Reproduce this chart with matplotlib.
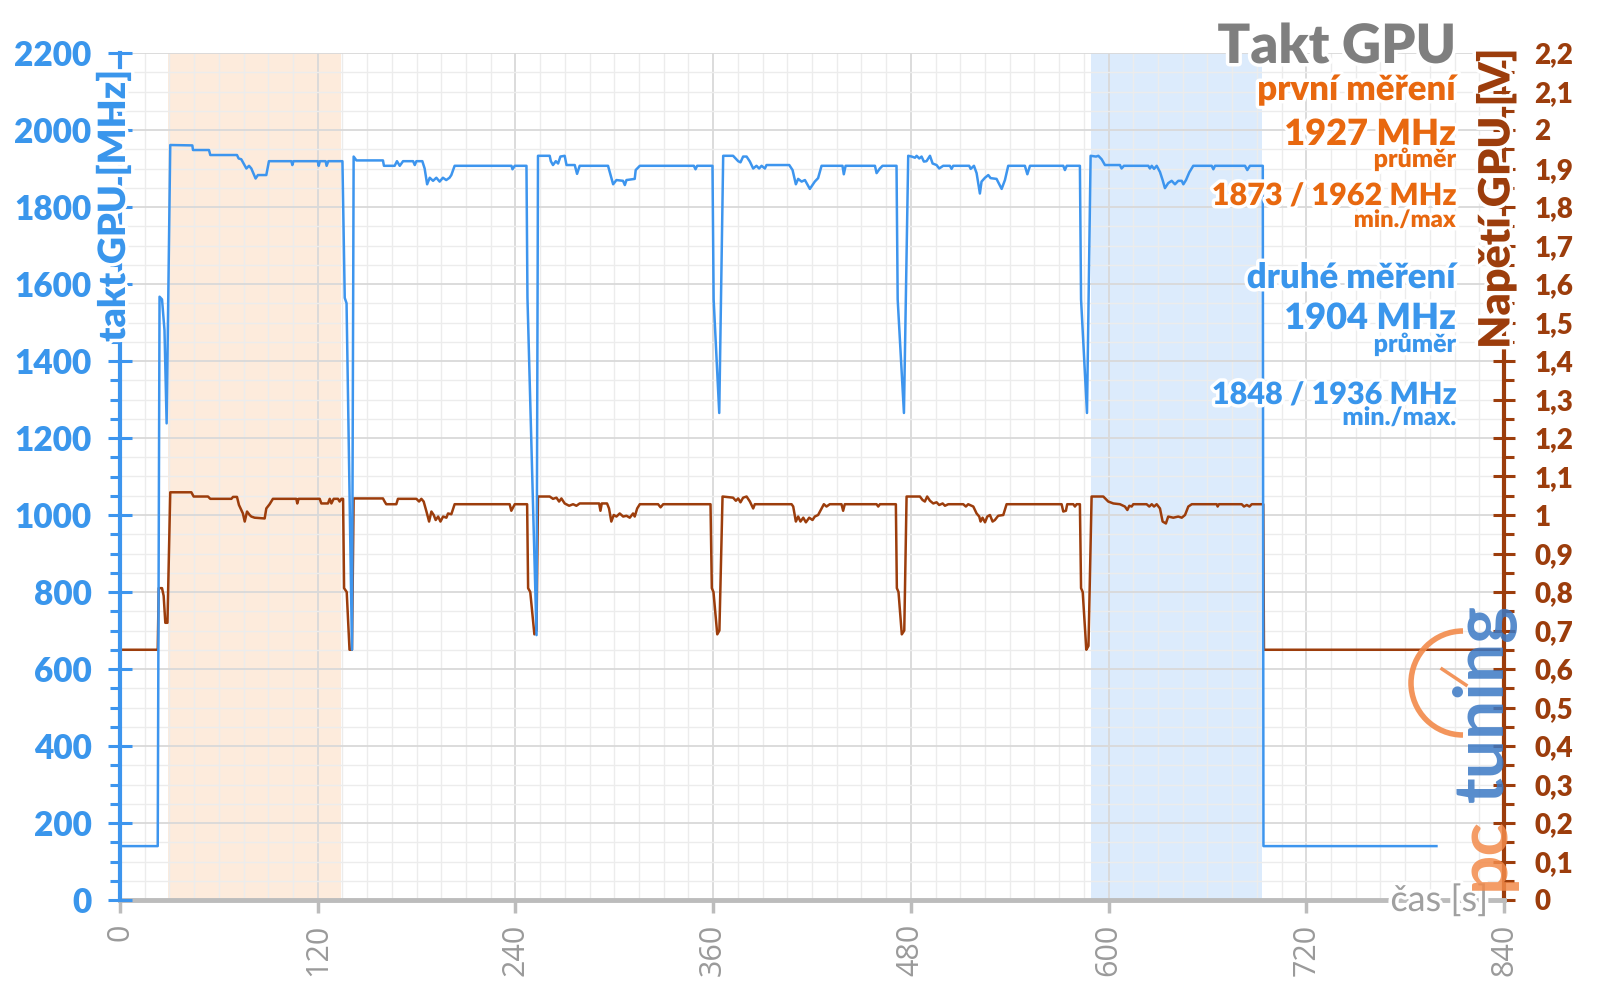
import matplotlib
matplotlib.use("Agg")
import matplotlib.pyplot as plt
import matplotlib.patheffects as pe
from matplotlib.patches import Arc
import numpy as np

plt.rcParams['font.family'] = ['Lato', 'DejaVu Sans']

# GPU clock (MHz) over time (s)
clock_t = [0, 22.9, 24.0, 25.5, 27.0, 28.3, 30.5,
           43.9, 44.3, 54.0, 54.8, 71.0, 72.0, 73.6, 76.7, 78.3, 79.7, 82.3, 83.7, 88.8, 90.4,
           104.0, 104.6, 105.3, 120.0, 120.6, 121.3, 124.8, 125.4, 126.4, 135.0,
           136.4, 137.5, 140.8, 141.8,
           143.5, 159.6, 160.2, 166.7, 168.1, 169.8, 171.8, 177.9, 178.9, 179.9, 183.5, 184.9, 186.4,
           188, 190, 192, 194, 196, 198, 200, 201.1, 203.1, 237.6, 238.2, 239.6, 246.7,
           247.3, 252.8, 253.7,
           260.8, 261.5, 262.8, 264.5, 265.9, 267.3, 269.9, 271, 276, 277.4, 279, 296.2, 299.3, 301.3,
           305.3, 306.4, 307.4, 312.4, 313, 315.5, 348.3, 349.3, 350.3, 359.6,
           360.3, 363.7, 366.1,
           372.1, 375.2, 376.6, 378.2, 380.3, 382.3, 384.3, 386.3, 387.9, 389.4, 391.4, 392.4, 406.2,
           408.2, 410.2, 411.6, 413.7, 415.7, 418.7, 421.7, 423.7, 425.8, 438.5, 439.3, 440.4, 458.2,
           459.2, 461.2, 462.8, 471.3,
           472.0, 475.8, 478.4,
           480.5, 482.5, 483.5, 485.1, 486.5, 487.9, 489.5, 491.6, 493.2, 495.6, 497.2, 499.6, 503.7,
           504.7, 505.7, 515.4, 516.3, 518.3, 519.9, 521.9, 522.9, 525, 527, 528.4, 532, 535.1, 537.1,
           539.1, 549.2, 550.7, 552.3, 572.5, 573.5, 574.6, 582.6,
           583.3, 586.9, 589.1,
           592.4, 593.8, 595.8, 597.8, 606.9, 607.9, 609.3, 624.1, 625.1, 626.2, 627.6, 629.2, 631.2,
           632.8, 634.2, 636.2, 638.3, 640.3, 642.3, 644.4, 645.4, 647, 649, 651.4, 662.6, 663.6, 664.6,
           682.8, 684.2, 685.8, 693.6,
           694.0, 799]
clock_mhz = [140, 140, 1567, 1560, 1480, 1238, 1961,
             1960, 1948, 1948, 1935, 1935, 1926, 1924, 1900, 1907, 1900, 1874, 1883, 1883, 1919,
             1919, 1909, 1919, 1919, 1907, 1919, 1919, 1907, 1919, 1919,
             1564, 1550, 650, 1931,
             1921, 1921, 1907, 1907, 1919, 1907, 1919, 1919, 1909, 1919, 1919, 1900, 1859,
             1876, 1868, 1876, 1866, 1876, 1870, 1876, 1883, 1907, 1907, 1898, 1907, 1907,
             1564, 688, 1933,
             1933, 1919, 1909, 1919, 1913, 1931, 1933, 1909, 1909, 1886, 1907, 1907, 1859, 1870,
             1868, 1857, 1870, 1873, 1896, 1907, 1907, 1898, 1907, 1907,
             1560, 1265, 1933,
             1933, 1919, 1916, 1931, 1931, 1918, 1900, 1907, 1900, 1907, 1900, 1909, 1909,
             1896, 1859, 1873, 1866, 1870, 1847, 1866, 1875, 1907, 1907, 1885, 1907, 1907,
             1888, 1900, 1907, 1907,
             1560, 1265, 1933,
             1931, 1928, 1933, 1926, 1931, 1918, 1919, 1933, 1913, 1909, 1900, 1907, 1907,
             1899, 1907, 1907, 1899, 1907, 1888, 1835, 1866, 1876, 1883, 1875, 1873, 1847, 1870,
             1907, 1907, 1885, 1907, 1907, 1896, 1907, 1907,
             1560, 1265, 1933,
             1931, 1933, 1924, 1909, 1909, 1900, 1907, 1907, 1900, 1907, 1899, 1907, 1891,
             1870, 1849, 1862, 1868, 1859, 1868, 1868, 1859, 1870, 1890, 1907, 1907, 1898, 1907,
             1907, 1896, 1907, 1907,
             140, 140]

# GPU voltage (V) over time (s)
volt_t = [0, 22.9, 23.5, 25.5, 26.5, 27.5, 28.8, 30.5,
          43.3, 44.7, 53.4, 54.8, 67.6, 68.6, 71, 72.2, 74.6, 75.7, 77.1, 78.7, 79.7, 81.7, 87.8,
          88.8, 90.8, 92.8, 107, 107.6, 108.4, 121.2, 122.2, 126.2, 127.3, 128.3, 129.7, 132.3,
          133.3, 134.4, 135.4,
          136.0, 137.6, 139.3, 140.8, 141.8,
          159.6, 160.6, 161.6, 167.7, 168.7, 179.9, 181.5, 182.9, 184.3, 186, 187.6, 189, 190.4,
          191.6, 193.1, 194.5, 196.1, 198.1, 199.1, 201.1, 203.1, 236.5, 237.5, 239.6, 247.1,
          247.7, 249.0, 251.5, 252.8, 253.7,
          260.8, 262.8, 264.9, 266.5, 267.9, 269.9, 272.6, 275, 277, 279, 290.8, 291.6, 292.4,
          295.6, 296.8, 298.2, 299.7, 301.3, 303.3, 305.4, 307.4, 309.4, 311.4, 312.4, 313.9,
          315.5, 326.6, 328.1, 329.7, 358.4,
          359.2, 360.2, 362.5, 363.8, 365.7,
          372.1, 373.8, 375.2, 376.6, 378.2, 380.3, 382.3, 384.3, 385.3, 407.6, 408.6, 410.2,
          411.6, 413, 414.7, 416.3, 418.3, 420.3, 421.7, 423.7, 425.8, 427.2, 428.8, 430.8, 437.9,
          438.9, 439.9, 459.2, 460.2, 461.2, 470.9,
          471.5, 472.5, 474.5, 476.0, 477.4,
          485.5, 487.1, 488.5, 489.9, 491.6, 493.6, 495.6, 497.2, 499.3, 500.7, 502.7, 511.8,
          513.4, 514.8, 517.9, 519.9, 521.5, 522.3, 523.5, 525, 526.4, 528, 529.6, 531, 533,
          536.1, 538.1, 571.5, 572.5, 574.1, 574.9, 578.6, 579.6, 580.6, 582.6,
          583.3, 584.3, 586.5, 587.8, 589.7,
          596.8, 599.8, 602.9, 606.9, 609.9, 611.4, 612.6, 614, 615, 623.1, 624.7, 626.2, 627.6,
          629.2, 631.2, 632.8, 634.8, 636.2, 639.3, 642.3, 644.4, 646.4, 648.4, 650.5, 665.6,
          666.2, 667, 680.8, 682.2, 683.9, 685.5, 686.9, 693.9,
          694.3, 837]
volt_v = [0.65, 0.65, 0.81, 0.81, 0.79, 0.72, 0.72, 1.059,
          1.059, 1.048, 1.048, 1.042, 1.042, 1.047, 1.047, 1.026, 1.004, 0.983, 1.009, 1.0, 0.996,
          0.993, 0.991, 1.017, 1.028, 1.042, 1.042, 1.030, 1.042, 1.042, 1.030, 1.030, 1.042,
          1.030, 1.042, 1.042, 1.035, 1.042, 1.042,
          0.81, 0.80, 0.65, 0.65, 1.043,
          1.043, 1.035, 1.028, 1.028, 1.042, 1.042, 1.035, 1.042, 1.035, 1.009, 0.983, 1.009, 1.0,
          0.987, 0.996, 0.983, 0.996, 0.993, 1.004, 1.002, 1.028, 1.028, 1.011, 1.028, 1.028,
          0.81, 0.80, 0.69, 0.70, 1.048,
          1.048, 1.042, 1.045, 1.035, 1.043, 1.030, 1.024, 1.028, 1.024, 1.030, 1.030, 1.011,
          1.030, 1.030, 1.017, 0.983, 1.0, 0.996, 1.004, 0.996, 0.998, 0.993, 1.004, 0.996, 1.017,
          1.028, 1.028, 1.020, 1.028, 1.028,
          0.81, 0.80, 0.69, 0.70, 1.048,
          1.045, 1.037, 1.043, 1.033, 1.045, 1.048, 1.035, 1.017, 1.028, 1.028, 1.022, 0.983,
          0.996, 0.983, 0.993, 0.981, 0.993, 0.987, 0.996, 1.0, 1.017, 1.028, 1.022, 1.028, 1.028,
          1.011, 1.028, 1.028, 1.022, 1.028, 1.028,
          0.81, 0.80, 0.69, 0.70, 1.048,
          1.048, 1.039, 1.035, 1.048, 1.037, 1.030, 1.033, 1.026, 1.030, 1.024, 1.028, 1.028,
          1.022, 1.028, 1.022, 1.004, 0.996, 0.983, 0.993, 0.981, 0.996, 1.0, 0.983, 0.987, 0.998,
          1.0, 1.028, 1.028, 1.009, 1.011, 1.028, 1.028, 1.022, 1.028, 1.028,
          0.81, 0.80, 0.65, 0.66, 1.048,
          1.048, 1.035, 1.030, 1.028, 1.022, 1.013, 1.024, 1.022, 1.028, 1.028, 1.022, 1.028,
          1.022, 1.028, 1.017, 0.983, 0.978, 0.996, 0.993, 0.996, 0.993, 1.0, 1.022, 1.028, 1.028,
          1.022, 1.028, 1.028, 1.022, 1.026, 1.022, 1.028, 1.028,
          0.65, 0.65]

# highlighted measurement windows (s)
span_first = (29, 134)
span_second = (589.5, 693)

x_ticks = [0, 120, 240, 360, 480, 600, 720, 840]
mhz_ticks = list(range(0, 2201, 200))
volt_ticks = [round(0.1 * i, 1) for i in range(23)]
volt_labels = ['0', '0,1', '0,2', '0,3', '0,4', '0,5', '0,6', '0,7', '0,8', '0,9', '1',
               '1,1', '1,2', '1,3', '1,4', '1,5', '1,6', '1,7', '1,8', '1,9', '2', '2,1', '2,2']

BLUE = '#3d95ee'
BLUE_TXT = '#3a96ec'
BROWN = '#9c3d0c'
ORANGE = '#e8680f'
GRAY = '#bcbcbc'

W, H = 1600, 999
fig = plt.figure(figsize=(16, 9.99), dpi=100)
fig.patch.set_facecolor('white')


def fx(x):
    return x / W


def fy(y):
    return 1 - y / H


pos = [fx(120), fy(900), fx(1504) - fx(120), fy(53) - fy(900)]
ax2 = fig.add_axes(pos)          # voltage axis (drawn below)
ax = fig.add_axes(pos, sharex=ax2)  # clock axis (drawn on top)
ax.patch.set_visible(False)

ax2.set_xlim(0, 840)
ax2.set_ylim(0, 2.2)
ax.set_ylim(0, 2200)

# background spans and grid on the lower axes
ax2.axvspan(*span_first, color='#fdebdc', lw=0, zorder=0)
ax2.axvspan(*span_second, color='#dcebfc', lw=0, zorder=0)
for v in np.arange(0, 841, 15):
    ax2.axvline(v, color='#d9d9d9' if v % 120 == 0 else '#ececec',
                lw=1.3 if v % 120 == 0 else 1.0, zorder=0.5)
for v in np.arange(0, 2201, 50):
    ax2.axhline(v / 1000, color='#d9d9d9' if v % 200 == 0 else '#ececec',
                lw=1.3 if v % 200 == 0 else 1.0, zorder=0.5)

ax2.plot(volt_t, volt_v, color=BROWN, lw=1.8, zorder=3)
ax.plot(clock_t, clock_mhz, color=BLUE, lw=1.8, zorder=3)

# spines
for s in ['top', 'left', 'bottom']:
    ax2.spines[s].set_visible(False)
ax2.spines['right'].set_color(BROWN)
ax2.spines['right'].set_linewidth(3)
for s in ['top', 'right']:
    ax.spines[s].set_visible(False)
ax.spines['left'].set_color(BLUE)
ax.spines['left'].set_linewidth(3)
ax.spines['bottom'].set_color(GRAY)
ax.spines['bottom'].set_linewidth(3.5)
ax.spines['bottom'].set_zorder(1)

# left (clock) axis
ax.set_yticks(mhz_ticks)
ax.set_yticks(np.arange(0, 2201, 50), minor=True)
ax.tick_params(axis='y', which='major', direction='inout', length=17, width=2.2,
               color=BLUE, labelcolor=BLUE_TXT, labelsize=24, pad=12)
ax.tick_params(axis='y', which='minor', direction='out', length=7, width=2.2, color=BLUE)
for lab in ax.get_yticklabels():
    lab.set_fontweight('heavy')

# right (voltage) axis
ax2.yaxis.tick_right()
ax2.set_yticks(volt_ticks)
ax2.set_yticklabels(volt_labels)
ax2.set_yticks(np.arange(0.05, 2.2, 0.1), minor=True)
ax2.tick_params(axis='y', which='major', direction='inout', length=16, width=2.2,
                color=BROWN, labelcolor=BROWN, labelsize=20, pad=14)
ax2.tick_params(axis='y', which='minor', direction='out', length=7, width=2.2, color=BROWN)
for lab in ax2.get_yticklabels():
    lab.set_fontweight('heavy')

# bottom (time) axis
ax.set_xticks(x_ticks)
ax.set_xticklabels([str(v) for v in x_ticks], rotation=90)
ax.tick_params(axis='x', which='major', direction='out', length=9, width=2.5,
               color=GRAY, labelcolor='#9a9a9a', labelsize=22, pad=8)
ax.tick_params(axis='x', which='minor', length=0)
ax2.tick_params(axis='x', which='both', length=0, labelbottom=False)
for lab in ax.get_xticklabels():
    lab.set_family(['Open Sans', 'DejaVu Sans'])

glow = [pe.withStroke(linewidth=5, foreground='white')]

# axis titles
fig.text(fx(113), fy(206), 'takt GPU [MHz]', rotation=90, ha='center', va='center',
         color=BLUE_TXT, fontsize=27, fontweight='heavy', path_effects=glow)
fig.text(fx(1496), fy(199), 'Napětí GPU [V]', rotation=90, ha='center', va='center',
         color=BROWN, fontsize=31, fontweight='heavy', path_effects=glow)
fig.text(fx(1488), fy(900), 'čas [s]', ha='right', va='center',
         color='#a0a0a0', fontsize=26, path_effects=glow)

# annotation block
right = fx(1456)
notes = [
    ('Takt GPU', 63, 39, '#7f7f7f'),
    ('první měření', 100, 25, ORANGE),
    ('1927 MHz', 145, 26, ORANGE),
    ('průměr', 167, 18, ORANGE),
    ('1873 / 1962 MHz', 205, 22, ORANGE),
    ('min./max', 227, 17, ORANGE),
    ('druhé měření', 288, 25, BLUE_TXT),
    ('1904 MHz', 329, 26, BLUE_TXT),
    ('průměr', 352, 18, BLUE_TXT),
    ('1848 / 1936 MHz', 404, 22, BLUE_TXT),
    ('min./max.', 425, 18, BLUE_TXT),
]
for txt, yb, size, col in notes:
    fig.text(right, fy(yb), txt, ha='right', va='baseline', color=col,
             fontsize=size, fontweight='heavy', path_effects=glow)

# watermark logo
fig.text(fx(1484), fy(703), 'tuning', rotation=90, ha='center', va='center',
         color='#3a78c4', alpha=0.85, fontsize=50, fontweight='bold')
fig.text(fx(1484), fy(853), 'pc', rotation=90, ha='center', va='center',
         color='#f28a4a', alpha=0.85, fontsize=50, fontweight='bold')
r = 52
fig.add_artist(Arc((fx(1463), fy(683)), 2 * r / W, 2 * r / H, theta1=90, theta2=270,
                   color='#f28a4a', lw=4, alpha=0.9, transform=fig.transFigure))
fig.add_artist(plt.Line2D([fx(1442), fx(1466)], [fy(669), fy(685)], color='#f28a4a',
                          lw=2.5, alpha=0.9, transform=fig.transFigure))

fig.savefig('out.png', dpi=100)
